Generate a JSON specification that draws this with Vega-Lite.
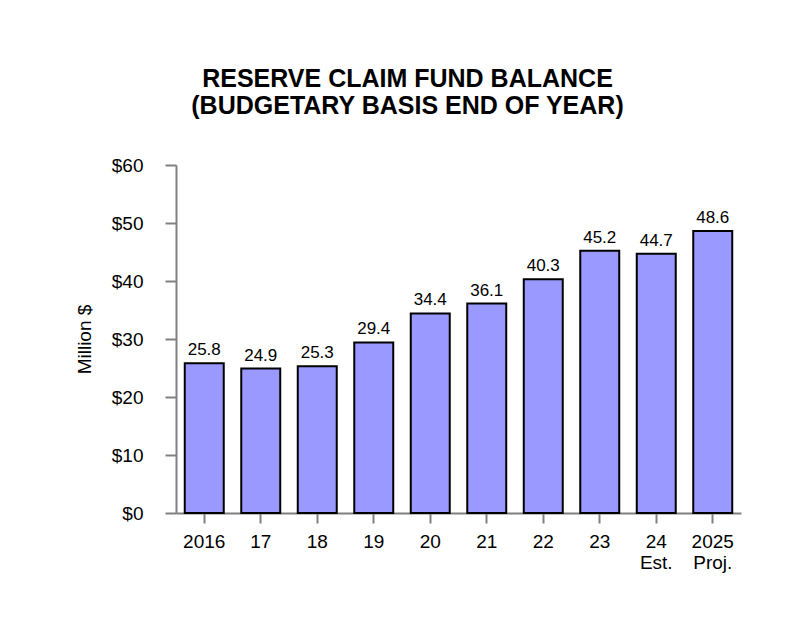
{
  "$schema": "https://vega.github.io/schema/vega-lite/v6.json",
  "autosize": {"type": "none"},
  "padding": {"left": 176, "top": 165, "right": 49, "bottom": 121},
  "width": 565,
  "height": 348,
  "background": "white",
  "config": {
    "font": "Liberation Sans",
    "view": {"stroke": null}
  },
  "title": {
    "text": ["RESERVE CLAIM FUND BALANCE", "(BUDGETARY BASIS END OF YEAR)"],
    "fontSize": 25,
    "fontWeight": "bold",
    "font": "Liberation Sans",
    "color": "black",
    "anchor": "middle",
    "dx": -51,
    "lineHeight": 27,
    "offset": 37
  },
  "data": {
    "values": [
      {"year": "2016", "balance": 25.8},
      {"year": "17", "balance": 24.9},
      {"year": "18", "balance": 25.3},
      {"year": "19", "balance": 29.4},
      {"year": "20", "balance": 34.4},
      {"year": "21", "balance": 36.1},
      {"year": "22", "balance": 40.3},
      {"year": "23", "balance": 45.2},
      {"year": "24|Est.", "balance": 44.7},
      {"year": "2025|Proj.", "balance": 48.6}
    ]
  },
  "encoding": {
    "x": {
      "field": "year",
      "type": "ordinal",
      "sort": null,
      "scale": {"paddingInner": 0.31, "paddingOuter": 0.155},
      "axis": {
        "title": null,
        "labelAngle": 0,
        "labelExpr": "split(datum.value, '|')",
        "labelFontSize": 19,
        "labelColor": "black",
        "labelLineHeight": 21.5,
        "labelPadding": 9,
        "tickSize": 10,
        "tickWidth": 2,
        "tickColor": "#808080",
        "domainColor": "#808080",
        "domainWidth": 2
      }
    },
    "y": {
      "field": "balance",
      "type": "quantitative",
      "scale": {"domain": [0, 60]},
      "axis": {
        "title": "Million $",
        "titleFontSize": 19,
        "titleFontWeight": "normal",
        "titleColor": "black",
        "titlePadding": 17,
        "values": [0, 10, 20, 30, 40, 50, 60],
        "labelExpr": "'$' + datum.value",
        "labelFontSize": 19,
        "labelColor": "black",
        "labelPadding": 22,
        "tickSize": 11,
        "tickWidth": 2,
        "tickColor": "#808080",
        "domainColor": "#808080",
        "domainWidth": 2,
        "grid": false
      }
    }
  },
  "layer": [
    {
      "mark": {"type": "bar", "fill": "#9999FF", "stroke": "black", "strokeWidth": 2}
    },
    {
      "mark": {"type": "text", "baseline": "alphabetic", "dy": -8, "fontSize": 17, "color": "black"},
      "encoding": {"text": {"field": "balance", "type": "quantitative", "format": ".1f"}}
    }
  ]
}
